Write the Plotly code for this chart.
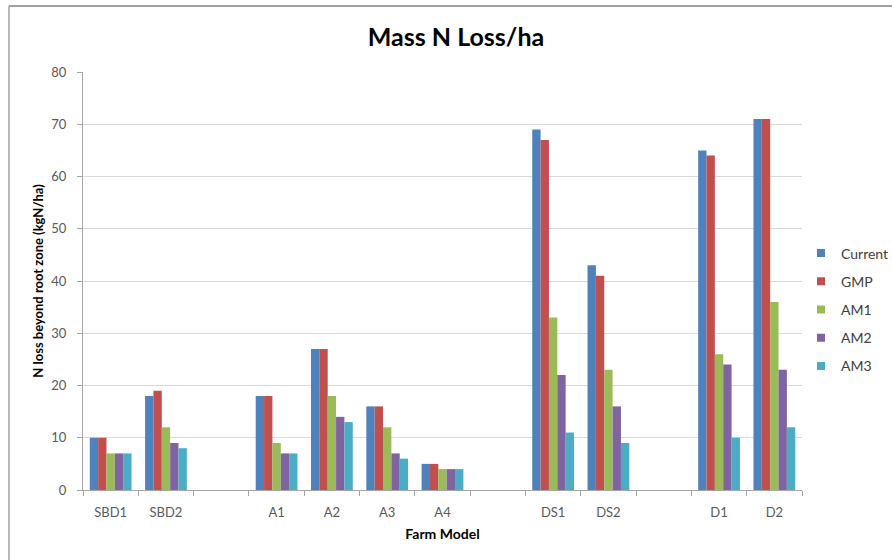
import plotly.graph_objects as go

categories = ["SBD1", "SBD2", " ", "A1", "A2", "A3", "A4", "  ", "DS1", "DS2", "   ", "D1", "D2"]
series_names = ["Current", "GMP", "AM1", "AM2", "AM3"]
current = [10, 18, None, 18, 27, 16, 5, None, 69, 43, None, 65, 71]
gmp = [10, 19, None, 18, 27, 16, 5, None, 67, 41, None, 64, 71]
am1 = [7, 12, None, 9, 18, 12, 4, None, 33, 23, None, 26, 36]
am2 = [7, 9, None, 7, 14, 7, 4, None, 22, 16, None, 24, 23]
am3 = [7, 8, None, 7, 13, 6, 4, None, 11, 9, None, 10, 12]
y_ticks = [0, 10, 20, 30, 40, 50, 60, 70, 80]

colors = ["#4F81BD", "#C0504D", "#9BBB59", "#8064A2", "#4BACC6"]
values = [current, gmp, am1, am2, am3]

W, H = 892, 560
L, R, T, B = 83, 90, 72, 70
pw, ph = W - L - R, H - T - B

def px(x):
    return (x - L) / pw

def py(y):
    return (H - B - y) / ph

fig = go.Figure()
for i, (name, vals) in enumerate(zip(series_names, values)):
    fig.add_trace(go.Bar(
        x=categories, y=vals, name=name,
        marker=dict(color=colors[i], line=dict(width=0)),
        showlegend=False,
    ))
# legend entries (small squares like the reference)
for i, name in enumerate(series_names):
    fig.add_trace(go.Scatter(
        x=[None], y=[None], mode="markers", name=name,
        marker=dict(symbol="square", size=8, color=colors[i]),
        legendgroup=name, showlegend=True,
    ))

font_family = "Lato, 'Open Sans', sans-serif"
fig.update_layout(
    width=W, height=H,
    margin=dict(l=L, r=R, t=T, b=B, autoexpand=False),
    paper_bgcolor="white", plot_bgcolor="white",
    barmode="group", bargap=0.245, bargroupgap=0,
    title=dict(text="<b>Mass N Loss/ha</b>", xref="container", x=456 / W, xanchor="center",
               yref="container", y=1 - 37 / H, yanchor="middle",
               font=dict(family=font_family, size=25, color="#000000")),
    font=dict(family=font_family, size=13, color="#595959"),
    legend=dict(x=px(801), xanchor="left", y=py(309.5), yanchor="middle",
                font=dict(size=14, color="#404040"), itemwidth=30,
                tracegroupgap=7, bgcolor="rgba(0,0,0,0)"),
    xaxis=dict(
        type="category", categoryorder="array", categoryarray=categories,
        range=[-0.5, len(categories) - 0.5],
        tickson="boundaries", ticks="outside", ticklen=5, tickcolor="#a6a6a6",
        showline=True, linecolor="#a6a6a6", linewidth=1,
        showgrid=False, ticklabelstandoff=10,
        tickfont=dict(size=13, color="#595959"),
        title=dict(text="<b>Farm Model</b>", font=dict(size=14, color="#000000"), standoff=10),
    ),
    yaxis=dict(
        range=[0, 80], tickvals=y_ticks, ticks="outside", ticklen=5, tickcolor="#a6a6a6",
        showline=True, linecolor="#a6a6a6", linewidth=1,
        showgrid=True, gridcolor="#d9d9d9", gridwidth=1, zeroline=False,
        ticklabelstandoff=8,
        tickfont=dict(size=13, color="#595959"),
        title=dict(text="<b>N loss beyond root zone (kgN/ha)</b>", font=dict(size=13, color="#000000"), standoff=4),
    ),
    shapes=[
        dict(type="line", xref="paper", yref="paper", x0=px(9), x1=px(892), y0=py(6), y1=py(6),
             line=dict(color="#a0a0a0", width=2)),
        dict(type="line", xref="paper", yref="paper", x0=px(9), x1=px(9), y0=py(6), y1=py(560),
             line=dict(color="#a0a0a0", width=1.5)),
    ],
)

fig.write_html("out.html", config={"displayModeBar": False},
               post_script="document.body.style.margin='0';document.body.style.overflow='hidden';")
